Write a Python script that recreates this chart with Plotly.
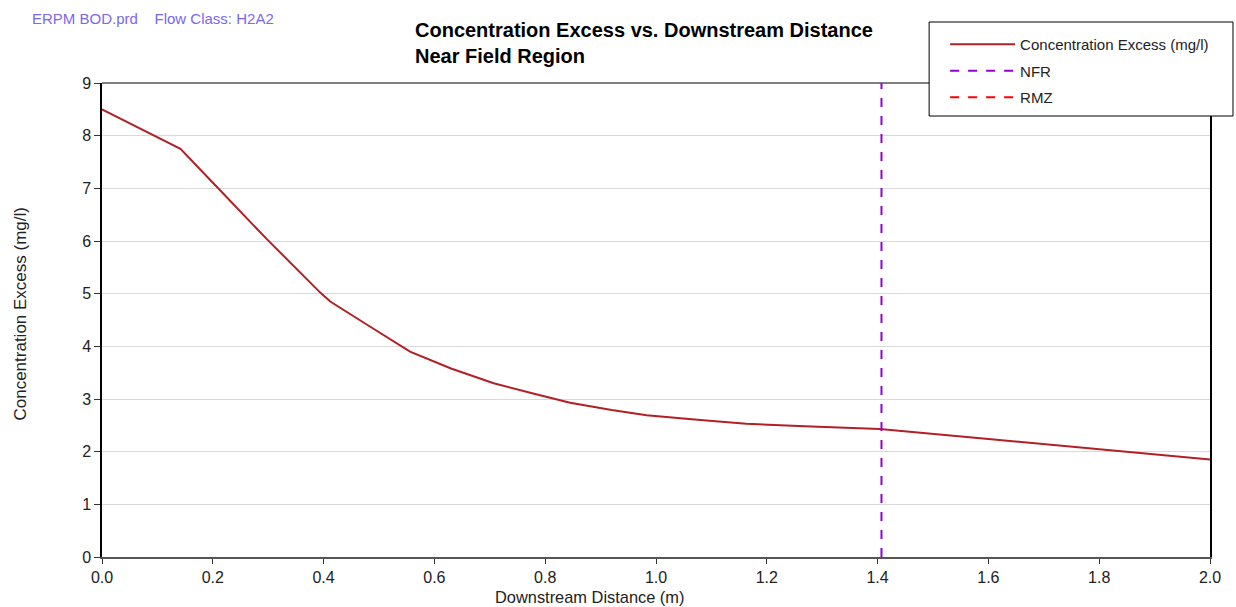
import plotly.graph_objects as go

# Data
x_dist = [0.0, 0.1416, 0.208, 0.298, 0.394, 0.412, 0.48, 0.556, 0.63, 0.707, 0.78,
          0.845, 0.92, 0.983, 1.08, 1.163, 1.28, 1.404, 1.6, 1.8, 2.0]
conc = [8.50, 7.75, 7.02, 6.03, 5.02, 4.85, 4.40, 3.90, 3.58, 3.30, 3.10,
        2.93, 2.79, 2.69, 2.60, 2.53, 2.48, 2.43, 2.24, 2.05, 1.85]
nfr_x = [1.407, 1.407]
nfr_y = [0, 9]
x_ticks = [0.0, 0.2, 0.4, 0.6, 0.8, 1.0, 1.2, 1.4, 1.6, 1.8, 2.0]
y_ticks = [0, 1, 2, 3, 4, 5, 6, 7, 8, 9]

FONT = "Liberation Sans, Arial, sans-serif"
W, H = 1236, 607
L, R, T, B = 101.5, 26, 83, 50
PW, PH = W - L - R, H - T - B


def px(x):
    return (x - L) / PW


def py(y):
    return (H - B - y) / PH


fig = go.Figure()
fig.add_trace(go.Scatter(x=x_dist, y=conc, mode="lines", name="Concentration Excess (mg/l)",
                         line=dict(color="#B22025", width=2), legendgroup="a"))
fig.add_trace(go.Scatter(x=nfr_x, y=nfr_y, mode="lines", name="NFR",
                         line=dict(color="#9400D3", width=2, dash="dash"), legendgroup="b"))
fig.add_trace(go.Scatter(x=[None], y=[None], mode="lines", name="RMZ",
                         line=dict(color="#FF0000", width=2, dash="dash"), legendgroup="c"))

# Legend box (opaque, covers plot frame)
fig.add_shape(type="rect", xref="paper", yref="paper",
              x0=px(929), x1=px(1233), y0=py(116), y1=py(22),
              line=dict(color="black", width=1), fillcolor="white", layer="above")
# top border of plot
fig.add_shape(type="line", xref="paper", yref="paper", x0=0, x1=1, y0=1, y1=1,
              line=dict(color="black", width=1), layer="below")

fig.add_annotation(text="ERPM BOD.prd&nbsp;&nbsp;&nbsp;&nbsp;Flow Class: H2A2",
                   xref="paper", yref="paper", x=px(29), y=py(18),
                   xanchor="left", yanchor="middle", showarrow=False,
                   font=dict(family=FONT, size=15, color="#7B68EE"))

# Title (two lines)
fig.add_annotation(text="<b>Concentration Excess vs. Downstream Distance<br>Near Field Region</b>",
                   xref="paper", yref="paper", x=px(413), y=py(43),
                   xanchor="left", yanchor="middle", align="left", showarrow=False,
                   font=dict(family=FONT, size=20, color="black"))

# Axis titles
fig.add_annotation(text="Downstream Distance (m)",
                   xref="paper", yref="paper", x=px(589), y=py(597),
                   xanchor="center", yanchor="middle", showarrow=False,
                   font=dict(family=FONT, size=16.4, color="#222"))
fig.add_annotation(text="Concentration Excess (mg/l)", textangle=-90,
                   xref="paper", yref="paper", x=px(19), y=py(314),
                   xanchor="center", yanchor="middle", showarrow=False,
                   font=dict(family=FONT, size=17, color="#222"))

fig.update_layout(
    width=W, height=H,
    margin=dict(l=L, r=R, t=T, b=B),
    paper_bgcolor="white", plot_bgcolor="white",
    font=dict(family=FONT, size=16, color="#222"),
    legend=dict(x=px(945), y=py(28), xanchor="left", yanchor="top",
                bgcolor="rgba(0,0,0,0)", borderwidth=0, itemwidth=65,
                font=dict(family=FONT, size=15, color="#222"),
                traceorder="grouped", tracegroupgap=4),
    showlegend=True,
    xaxis=dict(range=[0, 2.0], tickvals=x_ticks, tickformat=".1f",
               showgrid=False, zeroline=False,
               showline=True, linecolor="#555", linewidth=2,
               ticks="outside", ticklen=5, tickcolor="#333",
               tickfont=dict(family=FONT, size=16, color="#222")),
    yaxis=dict(range=[0, 9], tickvals=y_ticks,
               showgrid=True, gridcolor="#D9D9D9", gridwidth=1, zeroline=False,
               showline=True, linecolor="black", linewidth=1.5, mirror=True,
               ticks="outside", ticklen=6, tickcolor="#333",
               tickfont=dict(family=FONT, size=16, color="#222")),
)

fig.write_html("out.html", config={"displayModeBar": False},
               post_script="document.body.style.margin='0';document.body.style.overflow='hidden';")
